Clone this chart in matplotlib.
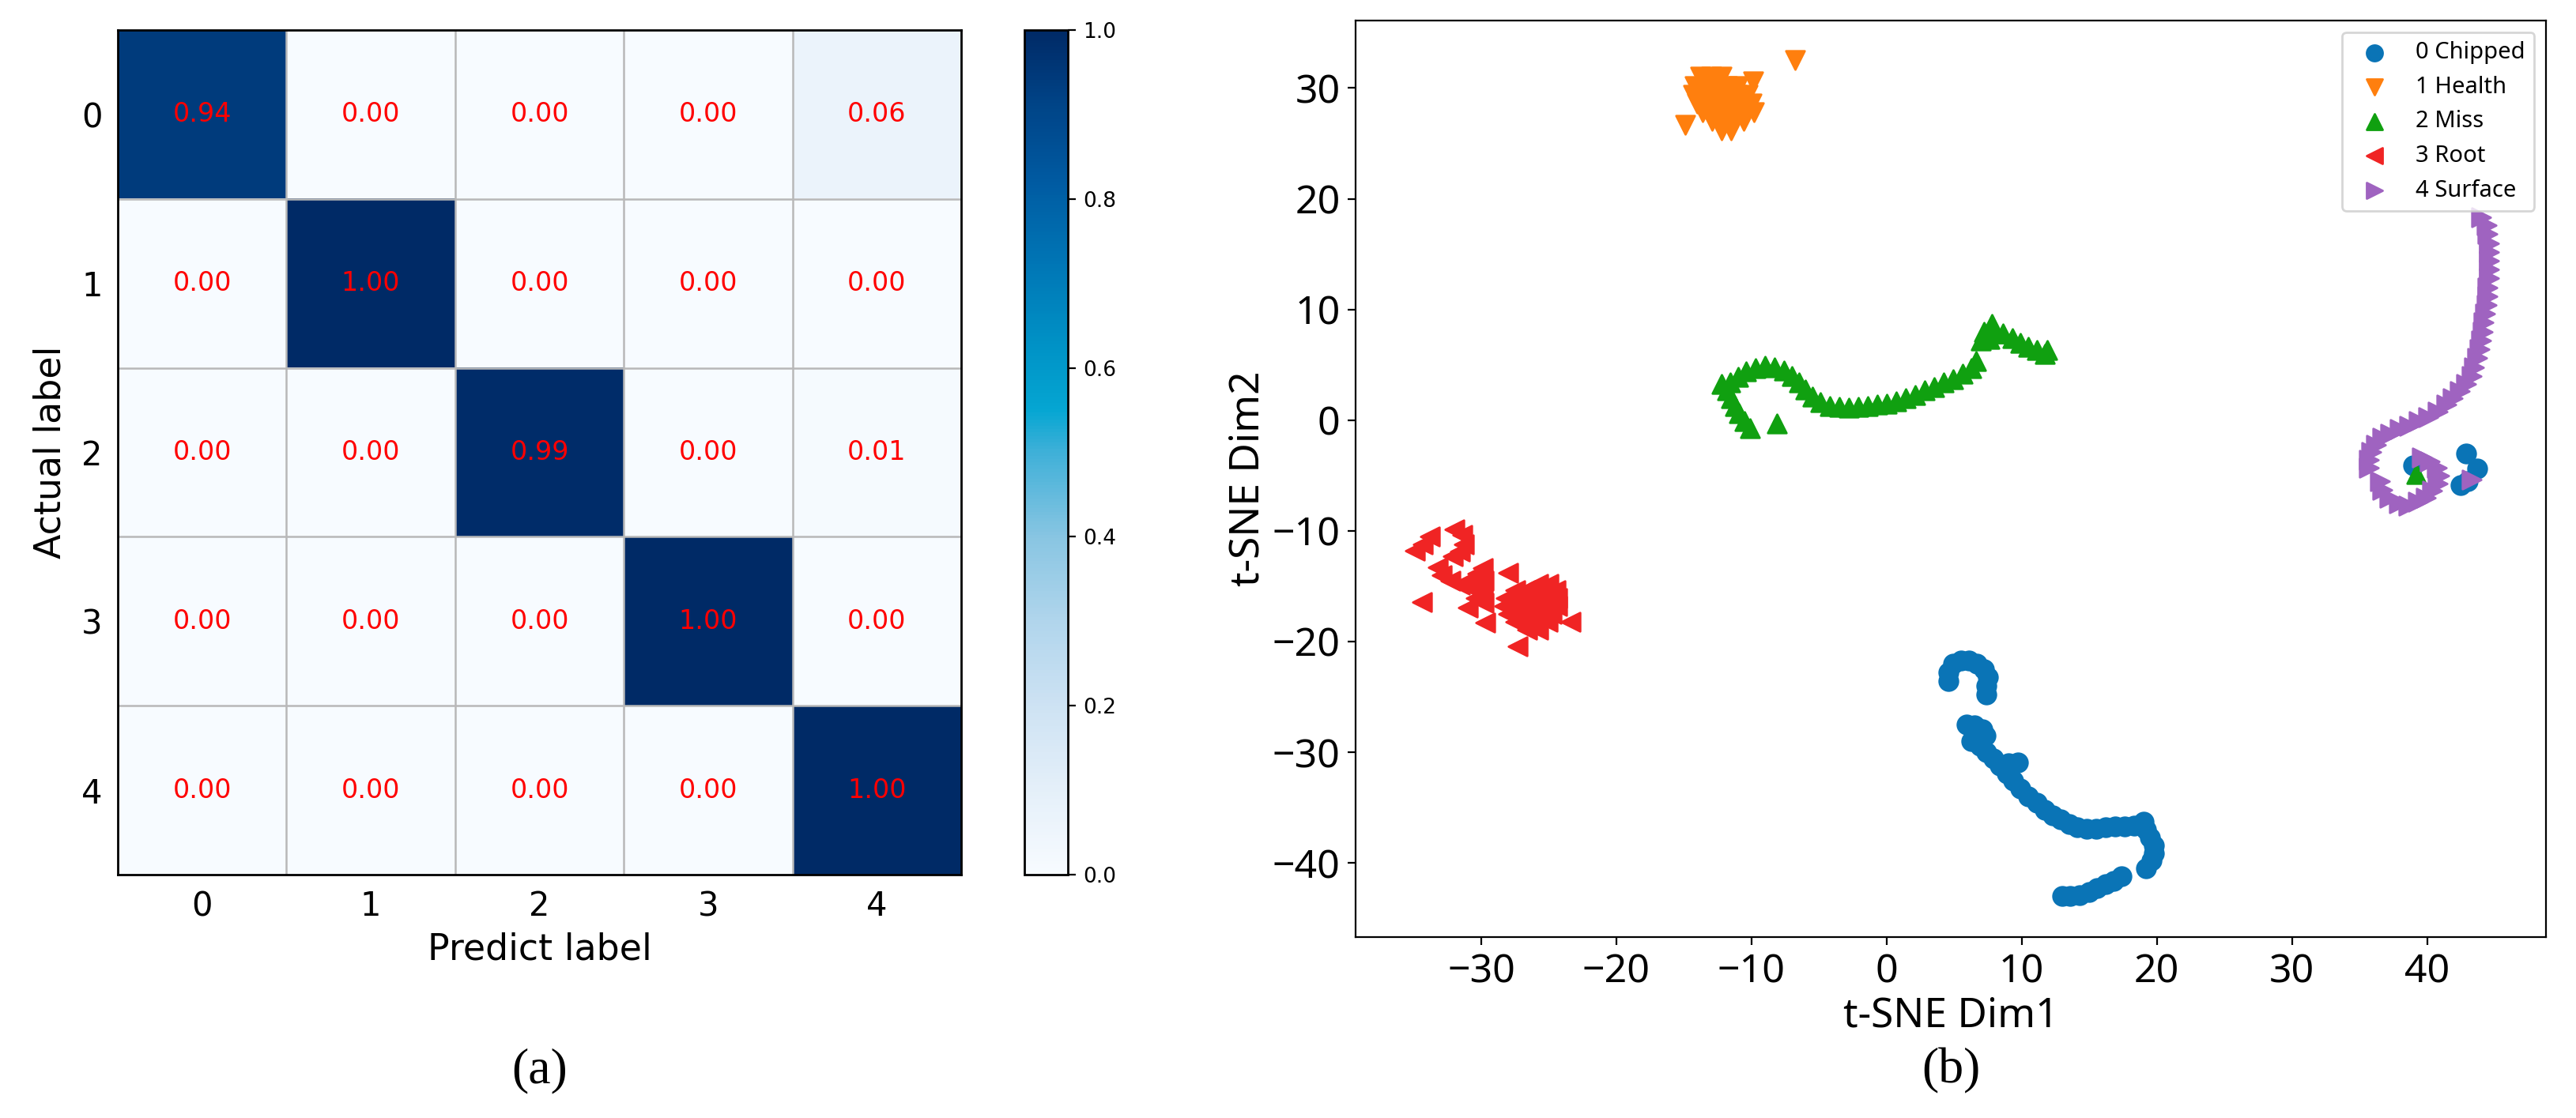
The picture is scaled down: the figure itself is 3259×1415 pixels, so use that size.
import matplotlib
matplotlib.use("Agg")
import matplotlib.pyplot as plt
import numpy as np
from matplotlib.colors import LinearSegmentedColormap

# --- confusion matrix, rows = actual, cols = predicted ---
CM_LABELS = ["0", "1", "2", "3", "4"]
CM_ROW_0 = [0.94, 0.00, 0.00, 0.00, 0.06]
CM_ROW_1 = [0.00, 1.00, 0.00, 0.00, 0.00]
CM_ROW_2 = [0.00, 0.00, 0.99, 0.00, 0.01]
CM_ROW_3 = [0.00, 0.00, 0.00, 1.00, 0.00]
CM_ROW_4 = [0.00, 0.00, 0.00, 0.00, 1.00]
CBAR_TICKS = [0.0, 0.2, 0.4, 0.6, 0.8, 1.0]

# --- t-SNE embedding, points ---
CLASS_NAMES = ["0 Chipped", "1 Health", "2 Miss", "3 Root", "4 Surface"]
X_TICKS = [-30, -20, -10, 0, 10, 20, 30, 40]
Y_TICKS = [-40, -30, -20, -10, 0, 10, 20, 30]

CHIPPED_PTS = [
    # upper hook
    (4.6, -23.6), (4.6, -22.8), (4.9, -22.0), (5.5, -21.7), (6.1, -21.7),
    (6.7, -22.0), (7.2, -22.5), (7.5, -23.2), (7.4, -24.0), (7.4, -24.8),
    # long curve
    (5.9, -27.5), (6.5, -27.6), (7.1, -27.9), (7.3, -28.5), (6.3, -29.0),
    (6.9, -29.4), (7.4, -30.0), (7.9, -30.6), (8.4, -31.2), (8.9, -31.9),
    (9.4, -32.6), (9.9, -33.3), (10.5, -34.0), (11.1, -34.6), (11.7, -35.2),
    (12.3, -35.7), (12.9, -36.1), (13.5, -36.5), (14.1, -36.8), (14.8, -36.9),
    (15.5, -36.9), (16.2, -36.8), (16.9, -36.7), (17.6, -36.7), (18.3, -36.6),
    (19.0, -36.3), (19.2, -37.0), (19.5, -37.7), (19.8, -38.4), (19.8, -39.1),
    (19.6, -39.8), (19.2, -40.5),
    (9.0, -31.0), (9.7, -30.9),
    # lower tail
    (13.0, -43.0), (13.6, -43.0), (14.3, -42.9), (15.0, -42.6), (15.6, -42.3),
    (16.2, -41.9), (16.8, -41.6), (17.4, -41.2),
    # stragglers next to the surface curl
    (39.0, -4.1), (42.9, -3.0), (43.7, -4.4), (42.5, -5.9), (43.0, -5.5),
]

HEALTH_PTS = [
    (-13.8, 31.0), (-13.0, 31.0), (-12.2, 31.0),
    (-14.2, 30.2), (-13.4, 30.2), (-12.6, 30.2), (-11.8, 30.2), (-11.0, 30.2),
    (-14.3, 29.4), (-13.5, 29.4), (-12.7, 29.4), (-11.9, 29.4), (-11.1, 29.4), (-10.3, 29.4),
    (-14.0, 28.6), (-13.2, 28.6), (-12.4, 28.6), (-11.6, 28.6), (-10.8, 28.6), (-10.0, 28.6),
    (-13.6, 27.8), (-12.8, 27.8), (-12.0, 27.8), (-11.2, 27.8), (-10.4, 27.8), (-9.8, 27.8),
    (-12.9, 27.0), (-12.1, 27.0), (-11.3, 27.0), (-10.6, 27.0),
    (-12.2, 26.2), (-11.5, 26.2),
    (-14.9, 26.7), (-9.9, 30.6), (-6.8, 32.5),
]

MISS_PTS = [
    (-10.1, -0.7), (-10.5, -0.1), (-10.9, 0.6), (-11.2, 1.3), (-11.5, 2.0),
    (-11.8, 2.7), (-12.2, 3.3), (-11.6, 3.4),
    (-11.0, 3.9), (-10.4, 4.4), (-9.7, 4.7), (-9.0, 4.9), (-8.3, 4.8),
    (-7.6, 4.5), (-7.0, 4.0), (-6.5, 3.4), (-6.0, 2.8), (-5.5, 2.1),
    (-4.9, 1.6), (-4.2, 1.3), (-3.5, 1.2), (-2.8, 1.1), (-2.1, 1.2),
    (-1.4, 1.3), (-0.7, 1.4), (0.0, 1.5), (0.7, 1.7), (1.4, 2.0),
    (2.1, 2.3), (2.8, 2.7), (3.5, 3.0), (4.2, 3.4), (4.9, 3.7),
    (5.6, 4.2), (6.3, 4.7), (6.6, 5.3),
    (7.0, 7.2), (7.2, 8.0), (7.8, 8.7), (8.0, 7.8), (7.6, 7.3),
    (8.6, 7.8), (9.3, 7.4), (9.9, 7.0), (10.5, 6.6), (11.1, 6.3),
    (11.7, 6.0), (11.9, 6.3),
    (-8.1, -0.3), (39.2, -4.9),
]

ROOT_PTS = [
    # dense blob
    (-25.8, -14.8), (-25.0, -14.8),
    (-27.5, -15.4), (-26.7, -15.4), (-25.9, -15.4), (-25.1, -15.4), (-24.5, -15.4),
    (-28.2, -16.1), (-27.4, -16.1), (-26.6, -16.1), (-25.8, -16.1), (-25.0, -16.1), (-24.4, -16.1),
    (-28.3, -16.8), (-27.5, -16.8), (-26.7, -16.8), (-25.9, -16.8), (-25.1, -16.8), (-24.4, -16.8),
    (-28.0, -17.5), (-27.2, -17.5), (-26.4, -17.5), (-25.6, -17.5), (-24.8, -17.5),
    (-27.5, -18.2), (-26.7, -18.2), (-25.9, -18.2), (-25.1, -18.2),
    (-26.6, -18.9), (-25.8, -18.9),
    # scattered pieces to the upper left
    (-34.9, -11.8), (-34.3, -11.2), (-33.8, -10.5),
    (-32.0, -9.9), (-31.4, -10.4), (-31.3, -11.2), (-31.6, -11.9), (-32.1, -12.3),
    (-33.2, -13.3), (-32.9, -14.0), (-32.3, -14.5), (-31.6, -14.9), (-30.9, -14.5),
    (-30.3, -13.9), (-29.9, -13.4), (-29.8, -14.5), (-29.9, -15.4), (-30.4, -16.1),
    (-29.8, -16.5), (-31.0, -16.9), (-30.5, -15.3),
    (-34.4, -16.4), (-29.7, -18.3), (-28.0, -13.8), (-27.3, -20.4), (-23.4, -18.2),
]

SURFACE_PTS = [
    (44.0, 18.3), (44.4, 17.6), (44.5, 16.8), (44.6, 16.0), (44.6, 15.2),
    (44.6, 14.4), (44.6, 13.6), (44.6, 12.8), (44.5, 12.0), (44.5, 11.2),
    (44.4, 10.4), (44.3, 9.6), (44.2, 8.8), (44.1, 8.0), (44.0, 7.2),
    (43.9, 6.4), (43.7, 5.6), (43.5, 4.8), (43.3, 4.0), (42.9, 3.3),
    (42.4, 2.6), (41.9, 2.0), (41.4, 1.4), (40.8, 0.8), (40.1, 0.3),
    (39.4, -0.1), (38.7, -0.5), (38.0, -0.8), (37.3, -1.2), (36.7, -1.6),
    (36.2, -2.2), (35.9, -2.9), (35.7, -3.6), (35.7, -4.3),
    # curl
    (36.5, -5.5), (36.7, -6.3), (37.2, -7.0), (37.9, -7.5), (38.6, -7.7),
    (39.3, -7.4), (39.9, -7.0), (40.4, -6.4), (40.8, -5.7), (40.9, -5.0),
    (40.7, -4.3), (40.2, -3.7), (39.6, -3.4),
    (43.3, -5.4),
]

W, H = 3259, 1415
DPI = 200

CLASS_COLORS = ["#0a74b6", "#ff7f0e", "#10a010", "#f02424", "#9f63c0"]
CLASS_MARKERS = ["o", "v", "^", "<", ">"]
CMAP_STOPS = [
    (0.00, "#f7fbff"), (0.10, "#e4eff9"), (0.20, "#cde2f3"), (0.30, "#b0d5ec"),
    (0.40, "#88c5e2"), (0.50, "#3fb0d8"), (0.55, "#05a6d2"), (0.62, "#0094c7"),
    (0.72, "#0077b6"), (0.82, "#005ba2"), (0.92, "#004285"), (1.00, "#002a66"),
]


def px_box(left, top, right, bottom):
    return [left / W, 1 - bottom / H, (right - left) / W, (bottom - top) / H]


def draw_confusion(fig):
    cm = np.array([CM_ROW_0, CM_ROW_1, CM_ROW_2, CM_ROW_3, CM_ROW_4])
    cmap = LinearSegmentedColormap.from_list("cm_blues", CMAP_STOPS)

    ax = fig.add_axes(px_box(149, 38, 1216, 1107))
    im = ax.imshow(cm, cmap=cmap, vmin=0, vmax=1, aspect="auto")
    for i in range(cm.shape[0]):
        for j in range(cm.shape[1]):
            ax.text(j, i, f"{cm[i, j]:.2f}", ha="center", va="center",
                    color="red", fontsize=12)

    ticks = np.arange(len(CM_LABELS))
    ax.set_xticks(ticks)
    ax.set_yticks(ticks)
    ax.set_xticklabels(CM_LABELS, fontsize=15)
    ax.set_yticklabels(CM_LABELS, fontsize=15)
    ax.set_xticks(ticks[:-1] + 0.5, minor=True)
    ax.set_yticks(ticks[:-1] + 0.5, minor=True)
    ax.grid(which="minor", color="#b8b8b8", linewidth=0.9)
    ax.tick_params(which="both", length=0, pad=7)
    ax.set_xlabel("Predict label", fontsize=16.5, labelpad=4)
    ax.set_ylabel("Actual label", fontsize=16.5, labelpad=6)
    for sp in ax.spines.values():
        sp.set_linewidth(1.0)

    cax = fig.add_axes(px_box(1296, 38, 1351, 1107))
    cb = fig.colorbar(im, cax=cax, ticks=CBAR_TICKS)
    cb.ax.tick_params(labelsize=9.5)
    cb.outline.set_linewidth(1.0)

    fig.text(0.5 * (149 + 1216) / W, 1 - 1355 / H, "(a)",
             family="Liberation Serif", fontsize=23, ha="center", va="center")


def draw_tsne(fig):
    ax = fig.add_axes(px_box(1715, 26, 3221, 1186))
    groups = [CHIPPED_PTS, HEALTH_PTS, MISS_PTS, ROOT_PTS, SURFACE_PTS]
    for pts, name, color, marker in zip(groups, CLASS_NAMES, CLASS_COLORS, CLASS_MARKERS):
        xy = np.array(pts)
        ax.scatter(xy[:, 0], xy[:, 1], s=72, c=color, marker=marker, label=name)

    ax.set_xlim(-39.3, 48.8)
    ax.set_ylim(-46.7, 36.1)
    ax.set_xticks(X_TICKS)
    ax.set_yticks(Y_TICKS)
    ax.tick_params(labelsize=18)
    for lab in ax.get_xticklabels() + ax.get_yticklabels():
        lab.set_family("Noto Sans")
    ax.set_xlabel("t-SNE Dim1", fontsize=18.5, family="Noto Sans", labelpad=2)
    ax.set_ylabel("t-SNE Dim2", fontsize=18.5, family="Noto Sans", labelpad=2)
    ax.legend(loc="upper right", prop={"family": "Noto Sans", "size": 10.5},
              markerscale=0.85)

    fig.text(0.5 * (1715 + 3221) / W, 1 - 1355 / H, "(b)",
             family="Liberation Serif", fontsize=23, ha="center", va="center")


def main():
    fig = plt.figure(figsize=(W / DPI, H / DPI), dpi=DPI)
    draw_confusion(fig)
    draw_tsne(fig)
    fig.savefig("out.png", dpi=DPI)


if __name__ == "__main__":
    main()
